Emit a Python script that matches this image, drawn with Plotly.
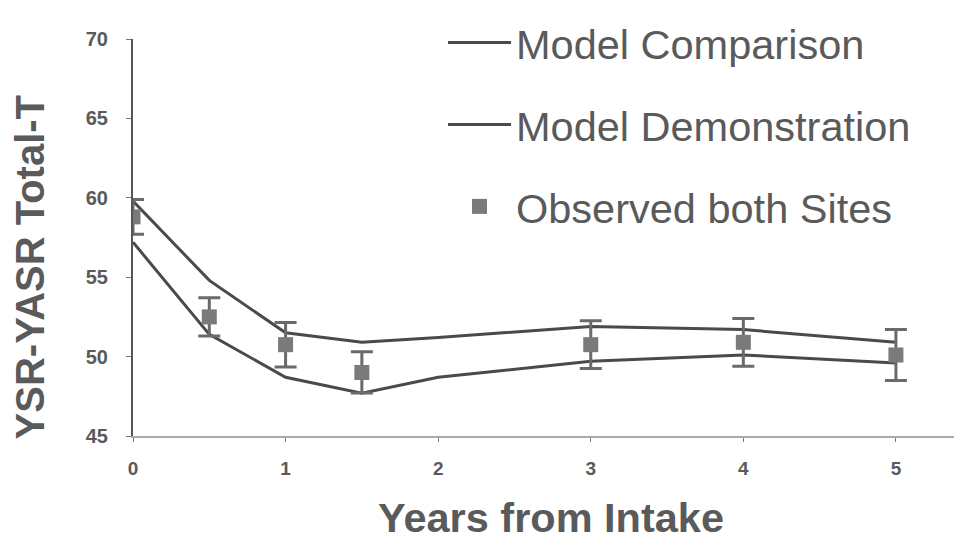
import plotly.graph_objects as go

years_model = [0, 0.5, 1, 1.5, 2, 3, 4, 5]
model_comparison = [59.8, 54.8, 51.5, 50.9, 51.2, 51.9, 51.7, 50.9]
model_demonstration = [57.2, 51.4, 48.7, 47.7, 48.7, 49.7, 50.1, 49.6]

years_obs = [0, 0.5, 1, 1.5, 3, 4, 5]
observed = [58.8, 52.5, 50.75, 49.0, 50.75, 50.9, 50.1]
observed_err = [1.1, 1.2, 1.4, 1.3, 1.5, 1.5, 1.6]

y_ticks = [45, 50, 55, 60, 65, 70]
x_ticks = [0, 1, 2, 3, 4, 5]

line_col = "#4a4a4a"
txt_col = "#5a5a5a"
fam = "Liberation Sans, Arial, sans-serif"

# page has an 8px body margin; compensate
W, H = 954, 539
L, T, R, B = 125, 30, 2, 111
pw = W - L - R
ph = H - T - B

fig = go.Figure()
fig.add_trace(go.Scatter(x=years_model, y=model_comparison, mode="lines",
                         name="Model Comparison", legendgroup="a",
                         line=dict(color=line_col, width=3)))
fig.add_trace(go.Scatter(x=years_model, y=model_demonstration, mode="lines",
                         name="Model Demonstration", legendgroup="b",
                         line=dict(color=line_col, width=3)))
fig.add_trace(go.Scatter(x=years_obs, y=observed, mode="markers",
                         name="Observed both Sites", legendgroup="c",
                         marker=dict(symbol="square", size=15, color="#7a7a7a"),
                         error_y=dict(type="data", array=observed_err, visible=True,
                                      color="#6a6a6a", thickness=3, width=11)))

fig.update_layout(
    width=W, height=H,
    margin=dict(l=L, r=R, t=T, b=B),
    paper_bgcolor="white", plot_bgcolor="white",
    font=dict(family=fam, color=txt_col),
    showlegend=True,
    legend=dict(x=(443 - 8 - L) / pw, y=1 + (T - 1) / ph, xanchor="left", yanchor="top",
                font=dict(size=41.5, color=txt_col, family=fam), bgcolor="rgba(0,0,0,0)",
                tracegroupgap=25, itemwidth=63),
    xaxis=dict(range=[0, 5.42], tickvals=x_ticks,
               ticktext=["<b>%d</b>" % t for t in x_ticks],
               showgrid=False, zeroline=False, showline=True, linecolor="#aaa",
               linewidth=2, ticks="outside", ticklen=4, tickcolor="#777",
               tickfont=dict(size=19, color=txt_col, family=fam),
               ticklabelstandoff=10, automargin=False),
    yaxis=dict(range=[45, 70], tickvals=y_ticks,
               ticktext=["<b>%d</b>" % t for t in y_ticks],
               showgrid=False, zeroline=False, showline=True, linecolor="#555",
               linewidth=2, ticks="outside", ticklen=5, tickcolor="#777",
               tickfont=dict(size=20, color=txt_col, family=fam),
               ticklabelstandoff=14, automargin=False),
    annotations=[
        dict(text="<b>YSR-YASR Total-T</b>", xref="paper", yref="paper",
             x=(30 - 8 - L) / pw, y=(436 - 267) / ph, textangle=-90, showarrow=False,
             xanchor="center", yanchor="middle",
             font=dict(size=40, color=txt_col, family=fam)),
        dict(text="<b>Years from Intake</b>", xref="paper", yref="paper",
             x=(551 - 8 - L) / pw, y=-(518 - 436) / ph, showarrow=False,
             xanchor="center", yanchor="middle",
             font=dict(size=41.5, color=txt_col, family=fam)),
    ],
)

fig.write_html("out.html")
